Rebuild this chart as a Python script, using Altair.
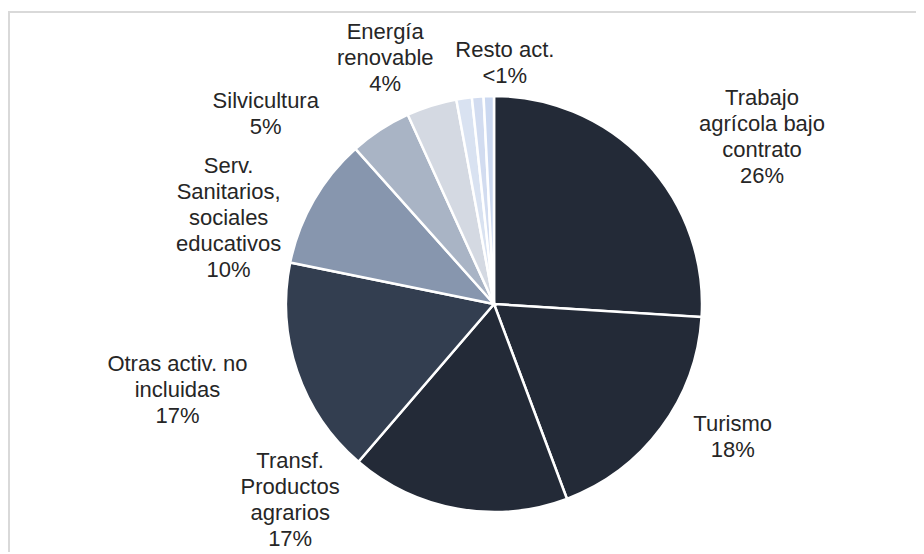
import math
import altair as alt
import pandas as pd

# ---------------- data ----------------
categories = [
    "Trabajo agrícola bajo contrato",
    "Turismo",
    "Transf. Productos agrarios",
    "Otras activ. no incluidas",
    "Serv. Sanitarios, sociales educativos",
    "Silvicultura",
    "Energía renovable",
    "Resto act. (a)",
    "Resto act. (b)",
    "Resto act. (c)",
]
values = [26.0, 18.3, 17.0, 16.9, 10.2, 4.8, 3.9, 1.2, 0.9, 0.8]
slice_colors = [
    "#232a37", "#232a37", "#232a37", "#333e50", "#8796ae",
    "#a9b4c5", "#d4d9e2", "#d9e2f1", "#d2dcf0", "#cbd8f0",
]

label_lines = [
    ["Trabajo", "agrícola bajo", "contrato"],
    ["Turismo"],
    ["Transf.", "Productos", "agrarios"],
    ["Otras activ. no", "incluidas"],
    ["Serv.", "Sanitarios,", "sociales", "educativos"],
    ["Silvicultura"],
    ["Energía", "renovable"],
    ["Resto act."],
]
label_pcts = ["26%", "18%", "17%", "17%", "10%", "5%", "4%", "<1%"]
# which slices each label belongs to
label_slices = [[0], [1], [2], [3], [4], [5], [6], [7, 8, 9]]

# ---------------- layout (label placement nudges) ----------------
label_angle_shift = [11.2, -7.5, 36.0, 3.7, -11.9, -17.1, -6.4, 7.8]   # degrees
label_radius = [316, 273, 283, 328, 279, 297, 269, 241]                # px (block centre)

PIE_R = 208
FONT_SIZE = 22
LINE_H = 26
L, T, W, H, R = 126, 48, 720, 496, 62

# ---------------- tables ----------------
pie_df = pd.DataFrame({
    "cat": categories,
    "value": values,
    "order": list(range(len(categories))),
})

cum = [0.0]
for v in values:
    cum.append(cum[-1] + v)
lab_theta, lab_r, lab_text = [], [], []
for i, idx in enumerate(label_slices):
    start, end = cum[idx[0]], cum[idx[-1] + 1]
    ang = math.radians((start + end) / 2 * 3.6 + label_angle_shift[i])
    cx = label_radius[i] * math.sin(ang)
    cy = -label_radius[i] * math.cos(ang)
    lines = label_lines[i] + [label_pcts[i]]
    # Vega anchors the first line; move the anchor up so the block is centred
    cy -= (len(lines) - 1) * LINE_H / 2
    lab_r.append(math.hypot(cx, cy))
    lab_theta.append(math.degrees(math.atan2(cx, -cy)) / 3.6)
    lab_text.append("\n".join(lines))
lab_df = pd.DataFrame({"t": lab_theta, "r": lab_r, "label": lab_text})

theta_scale = alt.Scale(domain=[0, 100])

frame = alt.Chart(pd.DataFrame({"k": [0]})).mark_rect(
    fill=None, stroke="#d9d9d9", strokeWidth=2
).encode(
    x=alt.value(1 - L), y=alt.value(4 - T),
    x2=alt.value(W + R + 200), y2=alt.value(H + 200),
)

pie = alt.Chart(pie_df).mark_arc(
    radius=PIE_R, stroke="white", strokeWidth=2.5
).encode(
    theta=alt.Theta("value:Q", stack=True, scale=theta_scale),
    order=alt.Order("order:Q"),
    color=alt.Color("cat:N", scale=alt.Scale(domain=categories, range=slice_colors), legend=None),
)

labels = alt.Chart(lab_df).mark_text(
    font="Liberation Sans", fontSize=FONT_SIZE, color="#262626",
    align="center", baseline="middle", lineBreak="\n", lineHeight=LINE_H,
).encode(
    theta=alt.Theta("t:Q", scale=theta_scale),
    radius=alt.Radius("r:Q", scale=None),
    text="label:N",
)

chart = alt.layer(frame, pie, labels).properties(
    width=W, height=H,
    autosize=alt.AutoSizeParams(type="none"),
    padding={"left": L, "top": T, "right": R, "bottom": 0},
).configure_view(stroke=None)

chart.save("out.html", embed_options={"renderer": "svg", "actions": False})
